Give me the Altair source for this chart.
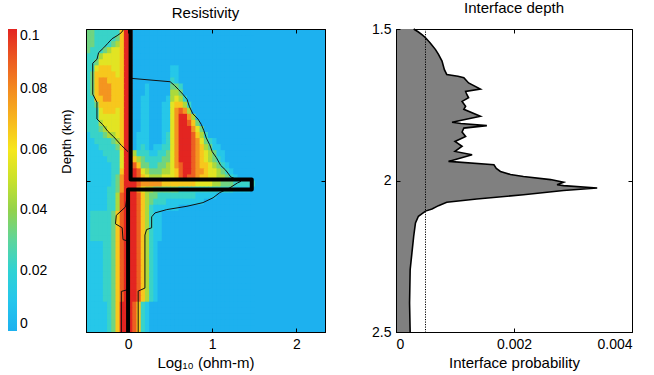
import altair as alt
import pandas as pd

FONT = "Liberation Sans"

# ---------------- data ----------------
# Resistivity posterior density. One string per depth bin (0.02 km, from 1.5 km down),
# one digit per log10-resistivity bin (0.05, from -0.5 to 1.5); digit 0..9 -> 0 .. 0.1.
HEAT_X0, HEAT_DX = -0.5, 0.05
HEAT_D0, HEAT_DD = 1.5, 0.02
heat_rows = [
    "33222222699 000000000 0000000000 0000000000",
    "33222223699 000000000 0000000000 0000000000",
    "33222234699 000000000 0000000000 0000000000",
    "32223455699 000000000 0000000000 0000000000",
    "22245555699 000000000 0000000000 0000000000",
    "22355555699 000000000 0000000000 0000000000",
    "22566655699 000000000 1100000000 0000000000",
    "23666665699 000000000 1100000000 0000000000",
    "23677666699 000000000 2100000000 0000000000",
    "23677766699 000100000 3320000000 0000000000",
    "23677766699 000100000 4430000000 0000000000",
    "22667766699 001100001 4542000000 0000000000",
    "22366666699 001100011 5664200000 0000000000",
    "22256665699 001100011 5787400000 0000000000",
    "22255555699 001100011 5799740000 0000000000",
    "22245555699 001100011 5799863000 0000000000",
    "22234555699 001100011 5799975300 0000000000",
    "12223445699 011100012 5799986420 0000000000",
    "11222234699 011100012 5799987532 1000000000",
    "11122223699 012101122 5799987643 1100000000",
    "11112222599 422211223 5799987654 3110000000",
    "11111222599 643222233 5799987654 3210000000",
    "11111122599 863322334 5789987665 4321000000",
    "11111122699 985433344 5689987765 5432100000",
    "11111123799 986544455 5689887665 5443210000",
    "11111123799 987777766 6666665555 4433322222",
    "11111223799 975443333 3322222222 2222211110",
    "11111224899 986433222 2222221111 1000000000",
    "11111224899 986432221 1111111100 0000000000",
    "11111224899 986421111 1100000000 0000000000",
    "12222236899 986421100 0000000000 0000000000",
    "12222236899 986421100 0000000000 0000000000",
    "12222236899 986421100 0000000000 0000000000",
    "12222236899 986421100 0000000000 0000000000",
    "12222236899 986421100 0000000000 0000000000",
    "11112236899 986421000 0000000000 0000000000",
    "11112236899 986421000 0000000000 0000000000",
    "11112236899 986421000 0000000000 0000000000",
    "11112236899 986421000 0000000000 0000000000",
    "11112236899 986421000 0000000000 0000000000",
    "11112236899 986421000 0000000000 0000000000",
    "11112236899 986421000 0000000000 0000000000",
    "11112236899 986421000 0000000000 0000000000",
    "11112236899 986421000 0000000000 0000000000",
    "11112236899 986421000 0000000000 0000000000",
    "11111236999 862100000 0000000000 0000000000",
    "11111236999 862100000 0000000000 0000000000",
    "11111236999 862100000 0000000000 0000000000",
    "11111236999 862100000 0000000000 0000000000",
    "11111236999 862100000 0000000000 0000000000",
]

# true model (thick black line)
model_x = [0.03, 0.03, 1.47, 1.47, 0.0, 0.0]
model_d = [1.5, 1.997, 1.997, 2.03, 2.03, 2.5]

# thin outline of the credible region
left_upper_x = [-0.05, -0.08, -0.13, -0.19, -0.24, -0.29, -0.35, -0.37, -0.42, -0.42,
                -0.37, -0.37, -0.30, -0.24, -0.17, -0.08, -0.02, 0.0]
left_upper_d = [1.500, 1.512, 1.522, 1.532, 1.547, 1.562, 1.578, 1.600, 1.613, 1.715,
                1.742, 1.797, 1.816, 1.838, 1.856, 1.884, 1.900, 1.905]
left_lower_x = [0.0, -0.03, -0.14, -0.15, -0.07, -0.06, 0.0, 0.0, -0.08, -0.08]
left_lower_d = [2.03, 2.087, 2.115, 2.143, 2.156, 2.195, 2.20, 2.36, 2.366, 2.5]
right_x = [0.04, 0.04, 0.50, 0.55, 0.60, 0.65, 0.70, 0.73, 0.77, 0.83,
           0.87, 0.90, 0.93, 0.97, 1.00, 1.05, 1.10, 1.16, 1.22, 1.30,
           1.34, 1.30, 1.21, 1.09, 1.01, 0.89, 0.70, 0.46, 0.32, 0.28,
           0.28, 0.22, 0.20, 0.20, 0.12, 0.12]
right_d = [1.500, 1.663, 1.674, 1.686, 1.700, 1.715, 1.732, 1.757, 1.780, 1.797,
           1.815, 1.835, 1.860, 1.882, 1.905, 1.925, 1.950, 1.966, 1.988, 1.998,
           2.003, 2.008, 2.024, 2.040, 2.057, 2.073, 2.085, 2.096, 2.107, 2.120,
           2.156, 2.162, 2.180, 2.355, 2.365, 2.5]

# interface probability profile
iface_d = [1.500, 1.510, 1.520, 1.529, 1.546, 1.568, 1.584, 1.606, 1.634, 1.650,
           1.656, 1.661, 1.678, 1.698, 1.706, 1.716, 1.727, 1.739, 1.755, 1.765,
           1.788, 1.808, 1.812, 1.819, 1.827, 1.840, 1.855, 1.871, 1.887, 1.904,
           1.915, 1.937, 1.948, 1.960, 1.970, 1.980, 1.987, 1.997, 2.006, 2.014,
           2.017, 2.025, 2.033, 2.047, 2.061, 2.072, 2.083, 2.094, 2.101, 2.118,
           2.140, 2.184, 2.239, 2.294, 2.404, 2.500]
iface_p = [0.00030, 0.00038, 0.00045, 0.00050, 0.00058, 0.00067, 0.00072, 0.00078, 0.00082, 0.00086,
           0.00105, 0.00115, 0.00123, 0.00143, 0.00118, 0.00120, 0.00123, 0.00112, 0.00118, 0.00115,
           0.00143, 0.00095, 0.00110, 0.00154, 0.00115, 0.00112, 0.00118, 0.00100, 0.00112, 0.00100,
           0.00129, 0.00089, 0.00166, 0.00170, 0.00177, 0.00194, 0.00216, 0.00262, 0.00284, 0.00273,
           0.00284, 0.00341, 0.00284, 0.00216, 0.00137, 0.00086, 0.00072, 0.00061, 0.00050, 0.00038,
           0.00033, 0.00030, 0.00027, 0.00024, 0.00023, 0.00024]
prior_p = 0.0005

cbar_values = [0, 0.02, 0.04, 0.06, 0.08, 0.1]
color_stops = [0, 0.01, 0.02, 0.03, 0.04, 0.05, 0.06, 0.07, 0.08, 0.09, 0.1]
color_range = ["#1db1ef", "#25c6ec", "#2fd2d4", "#5ed59c", "#93d24c", "#c9e12b",
               "#f6e71c", "#f7b71e", "#f38b20", "#ec5a21", "#e32521"]

res_ticks = [0, 1, 2]
prob_ticks = [0, 0.002, 0.004]
depth_ticks = [1.5, 2, 2.5]

# ---------------- tables ----------------
# cells overlap their neighbours by a hair so that no seams show between them
OVER_X, OVER_D = 0.008, 0.0025
cells = []
for r, row in enumerate(heat_rows):
    row = row.replace(" ", "")
    assert len(row) == 40
    for j, ch in enumerate(row):
        cells.append({"x0": HEAT_X0 + j * HEAT_DX,
                      "x1": HEAT_X0 + (j + 1) * HEAT_DX + OVER_X,
                      "d0": HEAT_D0 + r * HEAT_DD,
                      "d1": HEAT_D0 + (r + 1) * HEAT_DD + OVER_D,
                      "v": int(ch) / 9 * 0.1})
heat_df = pd.DataFrame(cells)

model_df = pd.DataFrame({"x": model_x, "d": model_d, "i": range(len(model_x))})


def seg(xs, ds, name):
    assert len(xs) == len(ds)
    return pd.DataFrame({"x": xs, "d": ds, "i": range(len(xs)), "seg": name})


left_df = pd.concat([seg(left_upper_x, left_upper_d, "a"), seg(left_lower_x, left_lower_d, "b")])
right_df = seg(right_x, right_d, "c")
assert len(iface_d) == len(iface_p)
iface_df = pd.DataFrame({"d": iface_d, "p": iface_p, "p0": 0.0, "i": range(len(iface_d))})
prior_df = pd.DataFrame({"p": [prior_p], "d0": [1.5], "d1": [2.5]})


# ---------------- helpers ----------------
def axis_ticks(orient, values, title=None, labels=False, title_size=15, title_pad=4, **kw):
    return alt.Axis(orient=orient, values=values, title=title, labels=labels, format="~g",
                    offset=-4, tickSize=4, tickColor="black", tickWidth=1, domain=False,
                    grid=False, zindex=1, labelFont=FONT, labelFontSize=14, labelColor="black",
                    labelPadding=5, titleFont=FONT, titleFontSize=title_size,
                    titleFontWeight="normal", titleColor="black", titlePadding=title_pad, **kw)


def axis_frame(orient):
    return alt.Axis(orient=orient, domain=True, domainColor="black", domainWidth=1,
                    ticks=False, labels=False, title=None, grid=False, zindex=1)


xs = alt.Scale(domain=[-0.5, 2.34], nice=False, zero=False)
ys = alt.Scale(domain=[1.5, 2.5], reverse=True, nice=False, zero=False)
xs2 = alt.Scale(domain=[0, 0.004], nice=False, zero=False)
cs = alt.Scale(domain=color_stops, range=color_range, interpolate="rgb")

legend = alt.Legend(type="gradient", orient="none", legendX=-78, legendY=0, direction="vertical",
                    title=None, values=cbar_values, format="~g", gradientLength=302,
                    gradientThickness=9, gradientStrokeWidth=0, labelFont=FONT, labelFontSize=14,
                    labelColor="black", labelOffset=3, padding=0)

# ---------------- left panel ----------------
heat = alt.Chart(heat_df).mark_rect(strokeWidth=0, clip=True).encode(
    x=alt.X("x0:Q", scale=xs, axis=axis_ticks("bottom", res_ticks, "Log₁₀ (ohm-m)", labels=True)),
    x2="x1:Q",
    y=alt.Y("d0:Q", scale=ys, axis=axis_ticks("left", depth_ticks, "Depth (km)", title_size=13,
                                               title_pad=12, titleY=112)),
    y2="d1:Q",
    color=alt.Color("v:Q", scale=cs, legend=legend),
)
cont_l = alt.Chart(left_df).mark_line(color="#111111", strokeWidth=1).encode(
    x=alt.X("x:Q", scale=xs, axis=axis_ticks("top", res_ticks)),
    y=alt.Y("d:Q", scale=ys, axis=axis_ticks("right", depth_ticks)),
    detail="seg:N", order="i:Q",
)
cont_r = alt.Chart(right_df).mark_line(color="#111111", strokeWidth=1).encode(
    x=alt.X("x:Q", scale=xs, axis=axis_frame("bottom")),
    y=alt.Y("d:Q", scale=ys, axis=axis_frame("left")),
    order="i:Q",
)
model = alt.Chart(model_df).mark_line(color="black", strokeWidth=4, strokeJoin="round").encode(
    x=alt.X("x:Q", scale=xs, axis=axis_frame("top")),
    y=alt.Y("d:Q", scale=ys, axis=axis_frame("right")),
    order="i:Q",
)
left = alt.layer(heat, cont_l, cont_r, model).resolve_axis(
    x="independent", y="independent"
).properties(
    width=239, height=303, title="Resistivity",
    view=alt.ViewBackground(fill=color_range[0], stroke="black", strokeWidth=1),
)

# ---------------- right panel ----------------
area = alt.Chart(iface_df).mark_area(orient="horizontal", fill="#808080", fillOpacity=1,
                                     interpolate="linear").encode(
    y=alt.Y("d:Q", scale=ys, axis=axis_ticks("left", depth_ticks, labels=True)),
    x=alt.X("p:Q", scale=xs2,
            axis=axis_ticks("bottom", prob_ticks, "Interface probability", labels=True)),
    x2="p0:Q",
)
curve = alt.Chart(iface_df).mark_line(color="black", strokeWidth=1.6).encode(
    x=alt.X("p:Q", scale=xs2, axis=axis_ticks("top", prob_ticks)),
    y=alt.Y("d:Q", scale=ys, axis=axis_ticks("right", depth_ticks)),
    order="i:Q",
)
prior = alt.Chart(prior_df).mark_rule(color="black", strokeWidth=1, strokeDash=[1.2, 1.3]).encode(
    x=alt.X("p:Q", scale=xs2, axis=axis_frame("bottom")),
    y=alt.Y("d0:Q", scale=ys, axis=axis_frame("left")),
    y2="d1:Q",
)
right = alt.layer(area, curve, prior).resolve_axis(
    x="independent", y="independent"
).properties(
    width=236, height=303, title="Interface depth",
    view=alt.ViewBackground(fill="white", stroke="black", strokeWidth=1),
)

chart = alt.hconcat(left, right, spacing=45).properties(
    padding={"left": 8, "top": 0, "right": 0, "bottom": 0},
    background="white",
).configure_title(
    font=FONT, fontSize=15, fontWeight="normal", color="black", offset=6, anchor="middle"
)

chart.save("out.html", embed_options={"renderer": "svg", "actions": False})
